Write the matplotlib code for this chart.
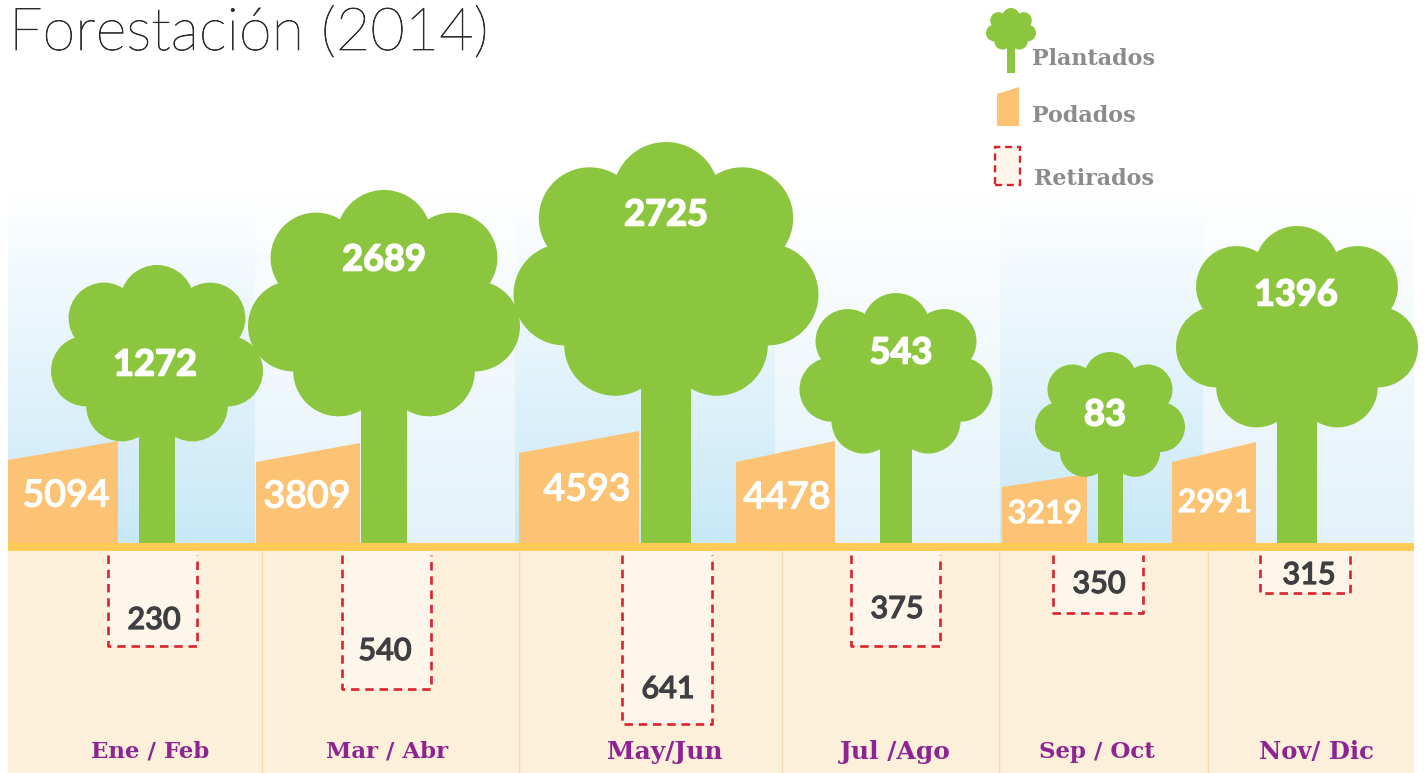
import numpy as np
import matplotlib
matplotlib.use("Agg")
import matplotlib.pyplot as plt
import matplotlib.patheffects as pe
from matplotlib.patches import Circle, Polygon, Rectangle

# values printed on the chart
periodos = ["Ene / Feb", "Mar / Abr", "May/Jun", "Jul /Ago", "Sep / Oct", "Nov/ Dic"]
plantados = [1272, 2689, 2725, 543, 83, 1396]
podados = [5094, 3809, 4593, 4478, 3219, 2991]
retirados = [230, 540, 641, 375, 350, 315]

# drawn sizes (not proportional to the values), px above/below ground
copa_ancho = [212, 272, 305, 193, 150, 242]
copa_alto = [278, 353, 401, 250, 191, 317]
arbol_x = [157, 384, 666, 896, 1110, 1297]
podado_x0 = [8, 256, 519, 736, 1002, 1172]
podado_x1 = [118, 360, 639, 835, 1087, 1256]
podado_izq = [83, 81, 90, 81, 56, 81]
podado_der = [102, 100, 112, 102, 69, 101]
retirado_x0 = [108, 342, 622, 851, 1053, 1260]
retirado_x1 = [197, 431, 712, 940, 1143, 1350]
retirado_prof = [103, 146, 181, 103, 70, 50]

# label positions and sizes
plant_lx = [155, 384, 666, 901, 1105, 1296]
plant_ly = [178, 283, 328, 190, 128, 248]
plant_fs = [26, 26, 26, 26, 26, 26]
pod_lx = [66, 307, 587, 787, 1045, 1215]
pod_ly = [47, 46, 53, 45, 29, 40]
pod_fs = [27, 27, 27, 27, 23, 23]
ret_lx = [154, 385, 668, 897, 1099, 1309]
ret_ly = [-77, -108, -146, -66, -41, -32]
per_lx = [150, 387, 665, 895, 1097, 1316]
per_fs = [16.5, 16.5, 18, 18, 16.5, 17.5]

columnas = [8, 255, 515, 775, 1000, 1203, 1414]
col_fondo = ["#c8e8f7", "#e3f2fa", "#c8e8f7", "#e3f2fa", "#c8e8f7", "#e3f2fa"]
separadores = [262, 519, 782, 999, 1208]

VERDE = "#8cc63f"
NARANJA = "#fdc374"
ROJO = "#d9232e"
CLARO = "#fef6ea"
SLAB = ["DejaVu Serif"]
SANS = ["Lato", "DejaVu Sans"]

# circles of one crown: dx, dy from crown top, radius (all as a share of the width)
plantilla = [(0, .175, .175), (-.25, .25, .167), (.25, .25, .167),
             (-.333, .5, .167), (.333, .5, .167), (-.167, .665, .167),
             (.167, .665, .167), (0, .42, .3)]


def arbol(ax, x, ancho, tope, base=0):
    for dx, dy, r in plantilla:
        ax.add_patch(Circle((x + dx * ancho, tope - dy * ancho), r * ancho, fc=VERDE, lw=0, zorder=4))
    t = ancho / 6
    ax.add_patch(Rectangle((x - t / 2, base), t, tope - .6 * ancho - base, fc=VERDE, lw=0, zorder=4))


def grueso(color, w):
    return [pe.withStroke(linewidth=w, foreground=color)]


fig = plt.figure(figsize=(14.24, 7.73), dpi=100)
ax = fig.add_axes([0, 0, 1, 1])

# sky columns
for i, c in enumerate(col_fondo):
    rgb = np.array(matplotlib.colors.to_rgb(c))
    t = np.linspace(0, 1, 200)[:, None, None]
    grad = 1 + (rgb - 1) * t
    ax.imshow(grad, extent=[columnas[i], columnas[i + 1], 0, 353], origin="upper", aspect="auto", zorder=1)

# ground
ax.add_patch(Rectangle((8, -230), 1406, 230, fc="#fdf0da", lw=0, zorder=1))
ax.add_patch(Rectangle((8, -8), 1406, 8, fc="#fecb57", lw=0, zorder=5))
ax.vlines(separadores, -230, -8, color="#fbd9a8", lw=1, zorder=2)

for i in range(6):
    ax.add_patch(Polygon([(podado_x0[i], 0), (podado_x0[i], podado_izq[i]),
                          (podado_x1[i], podado_der[i]), (podado_x1[i], 0)], fc=NARANJA, lw=0, zorder=3))
    arbol(ax, arbol_x[i], copa_ancho[i], copa_alto[i])

    x0, x1, p = retirado_x0[i], retirado_x1[i], retirado_prof[i]
    ax.add_patch(Rectangle((x0, -p), x1 - x0, p - 8, fc=CLARO, lw=0, zorder=2))
    ax.plot([x0, x0, x1, x1], [-12, -p, -p, -12], color=ROJO, lw=1.9, ls=(0, (3.2, 2.2)), zorder=3)

    ax.text(plant_lx[i], plant_ly[i], str(plantados[i]), color="white", fontsize=plant_fs[i], fontweight="bold",
            family=SANS, ha="center", va="center", zorder=6, path_effects=grueso("white", 1.2))
    ax.text(pod_lx[i], pod_ly[i], str(podados[i]), color="white", fontsize=pod_fs[i], fontweight="medium",
            family=SANS, ha="center", va="center", zorder=6, path_effects=grueso("white", 0.9))
    ax.text(ret_lx[i], ret_ly[i], str(retirados[i]), color="#3f3f41", fontsize=22, fontweight="medium",
            family=SANS, ha="center", va="center", zorder=6, path_effects=grueso("#3f3f41", 0.9))
    ax.text(per_lx[i], -209, periodos[i], color="#8e2491", fontsize=per_fs[i], fontweight="bold",
            family=SLAB, ha="center", va="center", zorder=6)

ax.text(9, 493, "Forestación (2014)", color="#2b2b2b", fontsize=42.8, fontweight="light",
        family=["Lato", "DejaVu Sans"], ha="left", va="baseline", zorder=6, path_effects=grueso("#2b2b2b", 0.5))

# legend
arbol(ax, 1011, 50, 535, 470)
ax.add_patch(Polygon([(997, 417), (997, 449), (1019, 456), (1019, 417)], fc=NARANJA, lw=0, zorder=3))
ax.add_patch(Rectangle((995, 358), 25, 38, fc=CLARO, ec=ROJO, lw=1.7, ls=(0, (3, 2)), zorder=3))
for txt, lx, ly in [("Plantados", 1032, 484), ("Podados", 1032, 427), ("Retirados", 1034, 364)]:
    ax.text(lx, ly, txt, color="#8a8c8e", fontsize=16, fontweight="bold", family=SLAB, ha="left", va="center", zorder=6)

ax.set_xlim(0, 1424)
ax.set_ylim(-230, 543)
ax.axis("off")
fig.savefig("out.png", dpi=100, facecolor="white")
